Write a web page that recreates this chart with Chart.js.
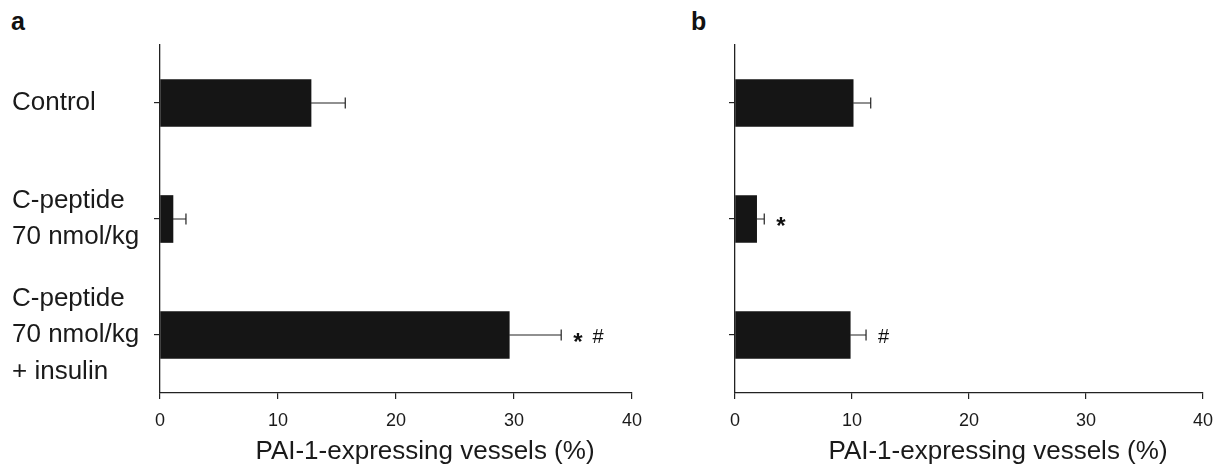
<!DOCTYPE html>
<html>
<head>
<meta charset="utf-8">
<script src="https://cdn.jsdelivr.net/npm/chart.js@4/dist/chart.umd.min.js"></script>
<style>
  body { margin: 0; background: #fff; width: 1228px; height: 469px; overflow: hidden; position: relative; font-family: 'Liberation Sans', Arial, sans-serif; }
  .panel { position: absolute; top: 0; }
  .letter { position: absolute; top: 7px; font-weight: bold; font-size: 25px; color: #111; }
</style>
</head>
<body>
<div class="letter" style="left:11px">a</div>
<div class="letter" style="left:691px">b</div>
<canvas id="chartA" class="panel" style="left:0" width="660" height="469"></canvas>
<canvas id="chartB" class="panel" style="left:660px" width="568" height="469"></canvas>
<script>
var groups = [['Control'], ['C-peptide', '70 nmol/kg'], ['C-peptide', '70 nmol/kg', '+ insulin']];
var xTicks = [0, 10, 20, 30, 40];
var axisTitle = 'PAI-1-expressing vessels (%)';

// panel a
var meansA = [12.8, 1.1, 29.6];
var errorsA = [2.9, 1.1, 4.4];
var marksA = ['', '', '* #'];

// panel b
var meansB = [10.1, 1.85, 9.85];
var errorsB = [1.5, 0.65, 1.35];
var marksB = ['', '*', '#'];

var FONT = "'Liberation Sans', Arial, sans-serif";

// error bars, significance marks and the x title
var extras = {
    id: 'extras',
    afterDatasetsDraw: function(chart, args, opts) {
        var ctx = chart.ctx;
        var xs = chart.scales.x;
        var values = chart.data.datasets[0].data;
        var meta = chart.getDatasetMeta(0);
        ctx.save();
        ctx.strokeStyle = '#222';
        ctx.lineWidth = 1.2;
        ctx.fillStyle = '#111';
        values.forEach(function(v, i) {
            var cy = meta.data[i].y;
            var x0 = xs.getPixelForValue(v);
            var x1 = xs.getPixelForValue(v + opts.errors[i]);
            ctx.beginPath();
            ctx.moveTo(x0, cy);
            ctx.lineTo(x1, cy);
            ctx.moveTo(x1, cy - 5.5);
            ctx.lineTo(x1, cy + 5.5);
            ctx.stroke();

            var x = x1 + 12;
            opts.marks[i].split(' ').forEach(function(m) {
                if (!m) return;
                ctx.textBaseline = 'alphabetic';
                if (m === '*') {
                    ctx.font = 'bold 24px ' + FONT;
                    ctx.fillText(m, x, cy + 15);
                } else {
                    ctx.font = '20px ' + FONT;
                    ctx.fillText(m, x, cy + 8);
                }
                x += ctx.measureText(m).width + 10;
            });
        });
        var area = chart.chartArea;
        ctx.font = '26px ' + FONT;
        ctx.textAlign = 'center';
        ctx.textBaseline = 'middle';
        ctx.fillStyle = '#1a1a1a';
        ctx.fillText(axisTitle, (area.left + area.right) / 2 + 29, 452);
        ctx.restore();
    }
};

function makeChart(id, means, errors, marks, yWidth, pad, showLabels) {
    var ctx = document.getElementById(id).getContext('2d');
    return new Chart(ctx, {
        type: 'bar',
        data: {
            labels: groups,
            datasets: [{
                data: means,
                backgroundColor: '#151515',
                borderWidth: 0,
                barThickness: 47
            }]
        },
        options: {
            indexAxis: 'y',
            responsive: false,
            animation: false,
            layout: { padding: pad },
            plugins: {
                legend: { display: false },
                tooltip: { enabled: false },
                extras: { errors: errors, marks: marks }
            },
            scales: {
                x: {
                    min: 0,
                    max: 40,
                    afterBuildTicks: function(s) { s.ticks = xTicks.map(function(v) { return { value: v }; }); },
                    afterFit: function(s) { s.height = 76; s.paddingLeft = 0; s.paddingRight = 0; },
                    grid: { drawOnChartArea: false, tickLength: 6, color: '#222', lineWidth: 1.2 },
                    border: { color: '#222', width: 1.3 },
                    ticks: { font: { family: FONT, size: 18 }, color: '#1a1a1a', padding: 11, maxRotation: 0 }
                },
                y: {
                    offset: true,
                    afterFit: function(s) { s.width = yWidth; s.paddingTop = 0; s.paddingBottom = 0; },
                    grid: { drawOnChartArea: false, offset: false, tickLength: 6, color: '#222', lineWidth: 1.2 },
                    border: { color: '#222', width: 1.3 },
                    ticks: {
                        autoSkip: false,
                        crossAlign: 'far',
                        font: { family: FONT, size: 26, lineHeight: 1.4 },
                        color: '#1a1a1a',
                        callback: function(v, i) { return showLabels ? groups[i] : ''; }
                    }
                }
            }
        },
        plugins: [extras]
    });
}

makeChart('chartA', meansA, errorsA, marksA, 148, { left: 12, right: 28, top: 45, bottom: 0 }, true);
makeChart('chartB', meansB, errorsB, marksB, 75, { left: 0, right: 25, top: 45, bottom: 0 }, false);
</script>
</body>
</html>
